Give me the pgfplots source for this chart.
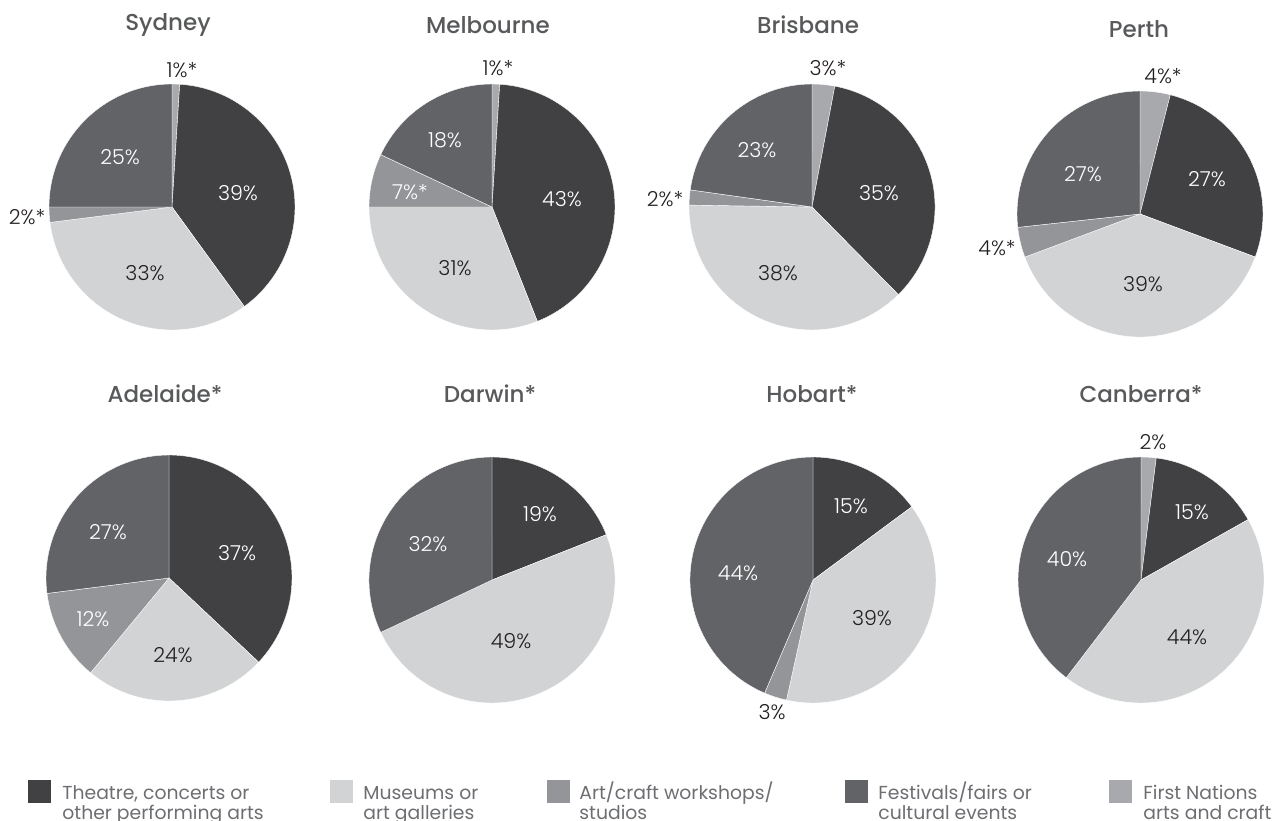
\documentclass[border=0pt]{standalone}
\usepackage{fontspec}
\usepackage{pgfplots}
\pgfplotsset{compat=1.18}
\IfFontExistsTF{Poppins Light}{\setmainfont{Poppins Light}}{\setmainfont{Poppins}}
\newfontfamily\legfont{Poppins}
\IfFontExistsTF{Poppins Medium}{\newfontfamily\titlefont{Poppins Medium}}{\newfontfamily\titlefont{Poppins}}

\definecolor{cTheatre}{HTML}{414042}
\definecolor{cMuseum}{HTML}{D1D3D4}
\definecolor{cArt}{HTML}{939598}
\definecolor{cFest}{HTML}{626366}
\definecolor{cFirst}{HTML}{A7A9AC}
\definecolor{cTitle}{HTML}{58595B}
\definecolor{cLeg}{HTML}{6D6E71}
\definecolor{cInk}{HTML}{231F20}

\tikzset{
  ttl/.style={font=\titlefont\fontsize{11.5}{13}\selectfont, text=cTitle, inner sep=0},
  lw/.style={font=\fontsize{10.3}{12}\selectfont, text=white, inner sep=0},
  lb/.style={font=\fontsize{10.3}{12}\selectfont, text=cInk, inner sep=0},
  lg/.style={anchor=base west, inner sep=0, font=\legfont\fontsize{9.4}{11}\selectfont, text=cLeg},
}

% one slice: cx, cy, value, colour (pixel coordinates, y downwards)
\newcommand\pieslice[4]{%
  \pgfmathsetmacro\pB{\pA-360*(#3/\pS)}%
  \ifdim #3pt>0pt
    \edef\tmp{\noexpand\fill[#4, draw=white, line width=0.2pt]
      (axis cs:#1,#2) -- ++(\pA:61.5pt)
      arc[start angle=\pA, end angle=\pB, radius=61.5pt] -- cycle;}\tmp
  \fi
  \let\pA\pB}
% cx, cy, theatre, museums, art/craft, festivals, first nations
\newcommand\pie[7]{%
  \pgfmathsetmacro\pS{#3+#4+#5+#6+#7}%
  \def\pA{90}%
  \pieslice{#1}{#2}{#7}{cFirst}%
  \pieslice{#1}{#2}{#3}{cTheatre}%
  \pieslice{#1}{#2}{#4}{cMuseum}%
  \pieslice{#1}{#2}{#5}{cArt}%
  \pieslice{#1}{#2}{#6}{cFest}}

\newcommand\legitem[5]{%
  \fill[#2] (axis cs:#1,780) rectangle (axis cs:#1+23,803);
  \node[lg] at (axis cs:#3,799) {#4};
  \node[lg] at (axis cs:#3,819) {#5};}

\begin{document}
\begin{tikzpicture}
\path[use as bounding box] (0,0) rectangle (637.5pt,410pt);
\clip (0,0) rectangle (637.5pt,410pt);
\begin{axis}[
    x=0.5pt, y=0.5pt,
    xmin=0, xmax=1275, ymin=0, ymax=820,
    y dir=reverse,
    hide axis, clip=false,
    anchor=south west, at={(0,0)},
]
% pies
\pie{172}{207}{39}{33}{2}{25}{1}   % Sydney
\pie{492}{207}{43}{31}{7}{18}{1}   % Melbourne
\pie{812}{207}{35}{38}{2}{23}{3}   % Brisbane
\pie{1140}{214}{27}{39}{4}{27}{4}  % Perth
\pie{169}{578}{37}{24}{12}{27}{0}  % Adelaide
\pie{492}{580}{19}{49}{0}{32}{0}   % Darwin
\pie{813}{580}{15}{39}{3}{44}{0}   % Hobart
\pie{1141}{580}{15}{44}{0}{40}{2}  % Canberra

% titles
\node[ttl] at (axis cs:168,25) {Sydney};
\node[ttl] at (axis cs:488,25) {Melbourne};
\node[ttl] at (axis cs:808,25) {Brisbane};
\node[ttl] at (axis cs:1139,29) {Perth};
\node[ttl] at (axis cs:165,394) {Adelaide*};
\node[ttl] at (axis cs:490,394) {Darwin*};
\node[ttl] at (axis cs:812,394) {Hobart*};
\node[ttl] at (axis cs:1141,394) {Canberra*};

% Sydney
\node[lb] at (axis cs:182,70) {1\%*};
\node[lw] at (axis cs:120,157) {25\%};
\node[lw] at (axis cs:238,193) {39\%};
\node[lb] at (axis cs:27,217) {2\%*};
\node[lb] at (axis cs:145,273) {33\%};
% Melbourne
\node[lb] at (axis cs:498,68) {1\%*};
\node[lw] at (axis cs:445,140) {18\%};
\node[lw] at (axis cs:410,192) {7\%*};
\node[lw] at (axis cs:562,199) {43\%};
\node[lb] at (axis cs:455,268) {31\%};
% Brisbane
\node[lb] at (axis cs:828,68) {3\%*};
\node[lw] at (axis cs:757,150) {23\%};
\node[lw] at (axis cs:879,193) {35\%};
\node[lb] at (axis cs:665,199) {2\%*};
\node[lb] at (axis cs:778,273) {38\%};
% Perth
\node[lb] at (axis cs:1163,76) {4\%*};
\node[lw] at (axis cs:1083,174) {27\%};
\node[lw] at (axis cs:1207,179) {27\%};
\node[lb] at (axis cs:997,248) {4\%*};
\node[lb] at (axis cs:1143,284) {39\%};
% Adelaide
\node[lw] at (axis cs:108,532) {27\%};
\node[lw] at (axis cs:237,553) {37\%};
\node[lw] at (axis cs:93,619) {12\%};
\node[lb] at (axis cs:173,655) {24\%};
% Darwin
\node[lw] at (axis cs:540,514) {19\%};
\node[lw] at (axis cs:428,544) {32\%};
\node[lb] at (axis cs:511,641) {49\%};
% Hobart
\node[lw] at (axis cs:851,506) {15\%};
\node[lw] at (axis cs:738,573) {44\%};
\node[lb] at (axis cs:872,618) {39\%};
\node[lb] at (axis cs:772,712) {3\%};
% Canberra
\node[lb] at (axis cs:1153,442) {2\%};
\node[lw] at (axis cs:1192,512) {15\%};
\node[lw] at (axis cs:1067,559) {40\%};
\node[lb] at (axis cs:1187,637) {44\%};

% legend
\legitem{28}{cTheatre}{62}{Theatre, concerts or}{other performing arts}
\legitem{330}{cMuseum}{363}{Museums or}{art galleries}
\legitem{547}{cArt}{579}{Art/craft workshops/}{studios}
\legitem{845}{cFest}{878}{Festivals/fairs or}{cultural events}
\legitem{1109}{cFirst}{1143}{First Nations}{arts and craft}
\end{axis}
\end{tikzpicture}
\end{document}
